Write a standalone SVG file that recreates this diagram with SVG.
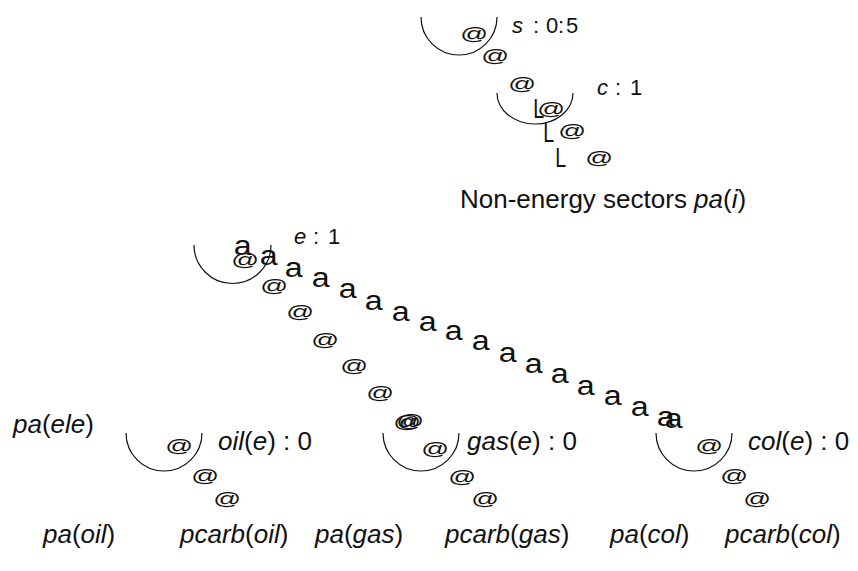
<svg xmlns="http://www.w3.org/2000/svg" width="858" height="571" viewBox="0 0 858 571">
<style>
text{font-family:"Liberation Sans",Arial,sans-serif;fill:#111}
.lb{font-size:26px}
.sm{font-size:22px}
.it{font-style:italic}
.at{font-size:25px;font-style:italic;transform-box:fill-box;transform-origin:center;transform:scale(1.1,0.75)}
.a{font-size:28px;transform-box:fill-box;transform-origin:center;transform:scale(1.15,1)}
.L{font-size:28px;transform-box:fill-box;transform-origin:center;transform:scale(0.7,1)}
.arc{fill:none;stroke:#111;stroke-width:1.2}
</style>
<rect width="858" height="571" fill="#fff"/>

<g id="node-s">
<path class="arc" d="M421,17 A38,38 0 0 0 497,17"/>
<text class="sm" y="33"><tspan class="it" x="512">s</tspan><tspan x="533">:</tspan><tspan x="546">0</tspan><tspan x="558">:</tspan><tspan x="566">5</tspan></text>
</g>
<g id="node-c">
<path class="arc" d="M497,93 A38,31 0 0 0 573,93"/>
<text class="sm" y="95"><tspan class="it" x="597">c</tspan><tspan x="615">:</tspan><tspan x="630">1</tspan></text>
</g>
<g id="node-nonenergy">
<text class="lb" x="460" y="208">Non-energy sectors <tspan class="it">pa</tspan>(<tspan class="it">i</tspan>)</text>
</g>
<g id="node-e">
<path class="arc" d="M194,245 A38,38 0 0 0 271,245"/>
<text class="sm" y="244"><tspan class="it" x="294">e</tspan><tspan x="313">:</tspan><tspan x="328">1</tspan></text>
</g>
<g id="node-pa-ele">
<text class="lb" x="13" y="433"><tspan class="it">pa</tspan>(<tspan class="it">ele</tspan>)</text>
</g>
<g id="node-oil">
<path class="arc" d="M126,433 A38,38 0 0 0 202,433"/>
<text class="lb" x="218" y="450"><tspan class="it">oil</tspan>(<tspan class="it">e</tspan>) : 0</text>
</g>
<g id="node-gas">
<path class="arc" d="M383,433 A38,38 0 0 0 459,433"/>
<text class="lb" x="467" y="450"><tspan class="it">gas</tspan>(<tspan class="it">e</tspan>) : 0</text>
</g>
<g id="node-col">
<path class="arc" d="M656,433 A38,38 0 0 0 732,433"/>
<text class="lb" x="748" y="450"><tspan class="it">col</tspan>(<tspan class="it">e</tspan>) : 0</text>
</g>
<g id="leaf-pa-oil"><text class="lb" x="43" y="543"><tspan class="it">pa</tspan>(<tspan class="it">oil</tspan>)</text></g>
<g id="leaf-pcarb-oil"><text class="lb" x="180" y="543"><tspan class="it">pcarb</tspan>(<tspan class="it">oil</tspan>)</text></g>
<g id="leaf-pa-gas"><text class="lb" x="315" y="543"><tspan class="it">pa</tspan>(<tspan class="it">gas</tspan>)</text></g>
<g id="leaf-pcarb-gas"><text class="lb" x="445" y="543"><tspan class="it">pcarb</tspan>(<tspan class="it">gas</tspan>)</text></g>
<g id="leaf-pa-col"><text class="lb" x="610" y="543"><tspan class="it">pa</tspan>(<tspan class="it">col</tspan>)</text></g>
<g id="leaf-pcarb-col"><text class="lb" x="725" y="543"><tspan class="it">pcarb</tspan>(<tspan class="it">col</tspan>)</text></g>

<g id="connectors">
<!-- top chain s -> c -> non-energy -->
<text class="at" x="461" y="42">@</text>
<text class="at" x="482" y="64.5">@</text>
<text class="at" x="509" y="92">@</text>
<text class="at" x="538" y="117.5">@</text>
<text class="at" x="559" y="139.5">@</text>
<text class="at" x="586" y="166.5">@</text>
<text class="L" x="531" y="118">L</text>
<text class="L" x="541" y="142">L</text>
<text class="L" x="553" y="167">L</text>
<!-- e -> gas chain -->
<text class="at" x="232" y="268">@</text>
<text class="at" x="261" y="294.5">@</text>
<text class="at" x="287" y="320.5">@</text>
<text class="at" x="312" y="348">@</text>
<text class="at" x="341" y="374.5">@</text>
<text class="at" x="367" y="401">@</text>
<text class="at" x="394" y="430.5">@</text>
<text class="at" x="397" y="429.5">@</text>
<text class="at" x="422" y="457">@</text>
<text class="at" x="449" y="485.5">@</text>
<text class="at" x="472" y="507">@</text>
<!-- oil chain -->
<text class="at" x="166" y="454.5">@</text>
<text class="at" x="192" y="484.5">@</text>
<text class="at" x="214" y="507">@</text>
<!-- col chain -->
<text class="at" x="696" y="454.5">@</text>
<text class="at" x="721" y="484.5">@</text>
<text class="at" x="744" y="507">@</text>
<!-- e -> col chain -->
<text class="a" x="235" y="255">a</text>
<text class="a" x="261" y="265">a</text>
<text class="a" x="286" y="277">a</text>
<text class="a" x="313" y="287">a</text>
<text class="a" x="340" y="298">a</text>
<text class="a" x="366" y="310">a</text>
<text class="a" x="393" y="321">a</text>
<text class="a" x="420" y="331">a</text>
<text class="a" x="446" y="340">a</text>
<text class="a" x="473" y="350">a</text>
<text class="a" x="500" y="362">a</text>
<text class="a" x="526" y="373">a</text>
<text class="a" x="552" y="383">a</text>
<text class="a" x="578" y="395">a</text>
<text class="a" x="605" y="405">a</text>
<text class="a" x="632" y="416">a</text>
<text class="a" x="658" y="426">a</text>
<text class="a" x="666" y="428">a</text>
</g>
</svg>
